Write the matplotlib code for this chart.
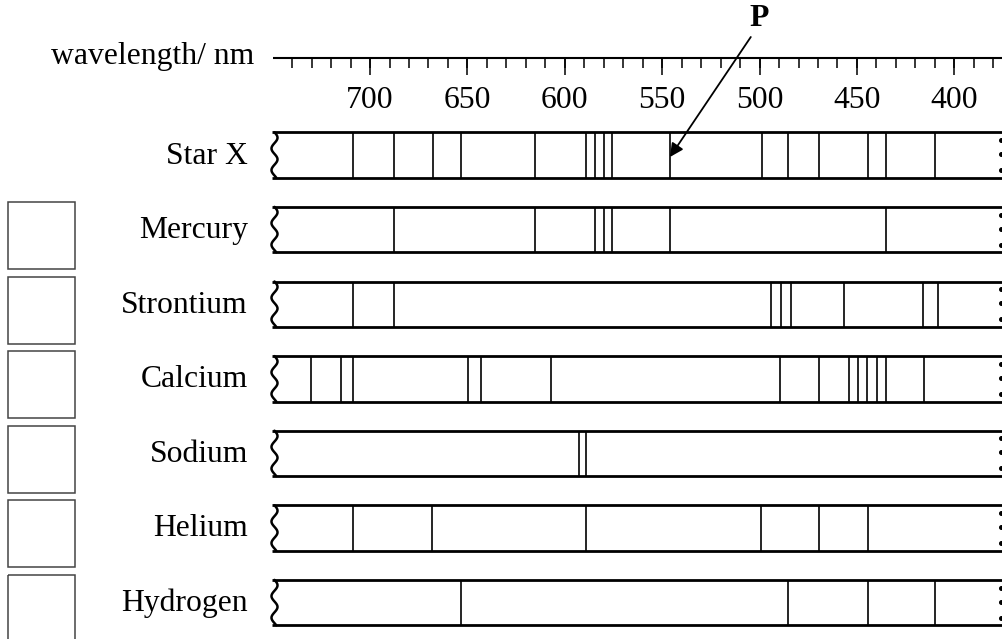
"""Line spectra of Star X and six elements against a wavelength ruler."""

import matplotlib

matplotlib.use("Agg")
import matplotlib.pyplot as plt
import numpy as np
from matplotlib.patches import Rectangle

plt.rcParams["font.family"] = ["Liberation Serif", "DejaVu Serif"]

# spectral lines, in nm
names = ["Star X", "Mercury", "Strontium", "Calcium", "Sodium", "Helium", "Hydrogen"]
star_x = [708.6, 687.8, 667.8, 653.3, 615.1, 589.1, 584.5, 580.0, 575.6,
          546.0, 498.9, 485.5, 469.5, 444.2, 435.1, 409.9]
mercury = [687.8, 615.1, 584.5, 580.0, 575.6, 546.2, 435.1]
strontium = [708.6, 687.8, 494.3, 489.0, 483.7, 456.6, 415.9, 408.2]
calcium = [730.3, 715.0, 708.6, 649.7, 642.9, 607.1, 489.5, 469.5,
           454.2, 449.6, 444.7, 439.7, 434.9, 415.7]
sodium = [592.7, 589.1]
helium = [708.6, 668.0, 589.1, 499.1, 469.5, 444.2]
hydrogen = [653.3, 485.5, 444.2, 409.9]
spectra = [star_x, mercury, strontium, calcium, sodium, helium, hydrogen]

# ruler
minor_ticks = list(range(740, 379, -10))
major_ticks = [700, 650, 600, 550, 500, 450, 400]
ruler_span = (750, 375)
p_line = 546.0

# layout, in pixels (y down)
W, H = 1003, 639
RULER_Y = 58.3
STRIP_TOP0, STRIP_PITCH, STRIP_H = 132.3, 74.6, 45.4
LEFT_X = 272
FONT = 22.8

fig = plt.figure(figsize=(W / 100, H / 100), dpi=100)
frame = fig.add_axes([0, 0, 1, 1])
frame.set_xlim(0, W)
frame.set_ylim(H, 0)
frame.axis("off")

ax = fig.add_axes([0, 0, 1, 1])
ax.set_xlim(890.0, 375.0)  # pixel 0 .. pixel 1003
ax.set_ylim(H, 0)
ax.axis("off")
ax.patch.set_alpha(0)

# ruler
ax.hlines(RULER_Y, ruler_span[0], ruler_span[1], color="black", lw=1.5)
ax.vlines(minor_ticks, RULER_Y, RULER_Y + 10, color="black", lw=1.1)
ax.vlines(major_ticks, RULER_Y, RULER_Y + 17, color="black", lw=1.1)
for t in major_ticks:
    ax.text(t, 100, str(t), ha="center", va="center", fontsize=FONT)
frame.text(254, 64, "wavelength/ nm", ha="right", va="baseline", fontsize=FONT)

for i, (name, lines) in enumerate(zip(names, spectra)):
    top = STRIP_TOP0 + i * STRIP_PITCH
    bot = top + STRIP_H
    # wavy left edge
    s = np.linspace(0, 1, 120)
    frame.plot(274.5 + 3.0 * np.sin(2 * np.pi * 2.1 * s), top + s * STRIP_H,
               color="black", lw=1.8, solid_capstyle="round")
    frame.hlines([top, bot], LEFT_X, W, color="black", lw=2.0)
    # dotted right edge
    frame.plot([1001.5] * 3, [top + 7.7, top + 21.7, top + 37.7], "o",
               color="black", ms=2.6)
    ax.vlines(lines, top, bot, color="black", lw=1.2)
    frame.text(248, (top + bot) / 2 + 8.5, name, ha="right", va="baseline",
               fontsize=FONT)
    if i > 0:
        frame.add_patch(Rectangle((8, top - 5), 67, 67, fill=False,
                                  edgecolor="#444444", lw=1.1))

# label P and its arrow
frame.text(759, 18, "P", ha="center", va="center", fontsize=FONT,
           fontweight="bold")
ax.annotate("", xy=(p_line, 157), xytext=(504.5, 37),
            arrowprops=dict(arrowstyle="-|>", color="black", lw=1.3,
                            mutation_scale=20, shrinkA=0, shrinkB=0))

fig.savefig("out.png", dpi=100)
